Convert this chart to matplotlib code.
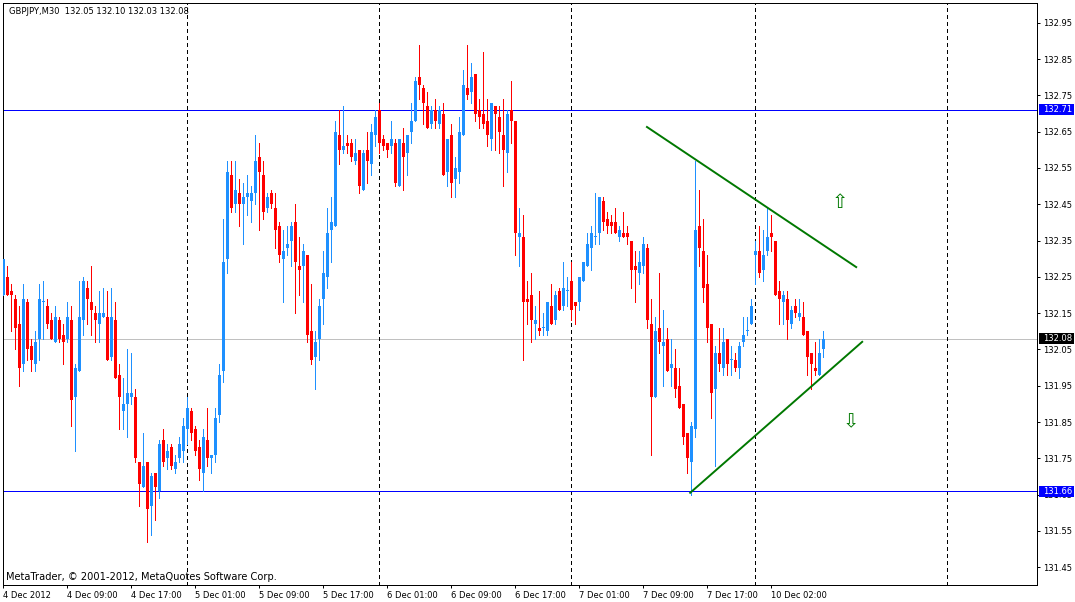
"""GBPJPY M30 candlestick chart in the MetaTrader 4 look (4-10 Dec 2012)."""

import matplotlib

matplotlib.use("Agg")

import matplotlib.pyplot as plt  # noqa: E402
import matplotlib.transforms as mtransforms  # noqa: E402
import numpy as np  # noqa: E402
from matplotlib.patches import Rectangle  # noqa: E402

# --- data --------------------------------------------------------------------
OPEN = [
    132.20, 132.25, 132.21, 132.19, 132.12, 132.01, 132.18, 132.06, 132.01, 132.08,
    132.18, 132.17, 132.13, 132.07, 132.13, 132.09, 132.08, 132.13, 131.92, 131.99,
    132.13, 132.22, 132.18, 132.15, 132.12, 132.14, 132.14, 132.03, 132.13, 131.98,
    131.88, 131.90, 131.92, 131.92, 131.74, 131.67, 131.74, 131.62, 131.71, 131.66,
    131.80, 131.75, 131.78, 131.72, 131.75, 131.77, 131.83, 131.88, 131.83, 131.78,
    131.71, 131.80, 131.75, 131.76, 131.87, 131.99, 132.30, 132.53, 132.45, 132.48,
    132.45, 132.47, 132.46, 132.48, 132.58, 132.53, 132.44, 132.48, 132.44, 132.39,
    132.30, 132.33, 132.35, 132.40, 132.28, 132.28, 132.31, 132.10, 132.03, 132.08,
    132.19, 132.25, 132.38, 132.39, 132.64, 132.60, 132.62, 132.62, 132.57, 132.60,
    132.49, 132.60, 132.56, 132.64, 132.71, 132.63, 132.62, 132.61, 132.62, 132.50,
    132.62, 132.59, 132.65, 132.68, 132.80, 132.77, 132.72, 132.67, 132.71, 132.67,
    132.70, 132.54, 132.64, 132.52, 132.54, 132.64, 132.77, 132.76, 132.81, 132.71,
    132.70, 132.68, 132.63, 132.72, 132.69, 132.64, 132.59, 132.71, 132.68, 132.36,
    132.36, 132.19, 132.20, 132.12, 132.11, 132.11, 132.10, 132.17, 132.13, 132.21,
    132.17, 132.21, 132.24, 132.18, 132.18, 132.24, 132.28, 132.33, 132.36, 132.37,
    132.46, 132.41, 132.40, 132.40, 132.36, 132.37, 132.37, 132.35, 132.28, 132.26,
    132.28, 132.33, 132.12, 131.92, 132.11, 132.06, 132.08, 132.00, 132.00, 131.95,
    131.90, 131.82, 131.74, 131.83, 132.39, 132.32, 132.23, 132.12, 131.94, 132.04,
    132.00, 132.08, 132.02, 132.02, 132.00, 132.07, 132.10, 132.12, 132.31, 132.32,
    132.27, 132.32, 132.37, 132.35, 132.21, 132.18, 132.19, 132.12, 132.17, 132.14,
    132.14, 132.10, 132.04, 132.00, 131.98, 132.05,
]
HIGH = [
    132.30, 132.28, 132.23, 132.20, 132.17, 132.23, 132.19, 132.08, 132.10, 132.23,
    132.24, 132.19, 132.15, 132.17, 132.14, 132.12, 132.18, 132.17, 132.01, 132.24,
    132.25, 132.24, 132.28, 132.17, 132.21, 132.22, 132.21, 132.22, 132.18, 132.01,
    131.97, 132.05, 132.04, 131.94, 131.74, 131.82, 131.74, 131.71, 131.71, 131.80,
    131.83, 131.79, 131.79, 131.76, 131.81, 131.86, 131.92, 131.89, 131.84, 131.80,
    131.83, 131.89, 131.76, 131.89, 132.01, 132.41, 132.57, 132.57, 132.57, 132.52,
    132.51, 132.53, 132.50, 132.64, 132.62, 132.57, 132.48, 132.49, 132.48, 132.40,
    132.38, 132.39, 132.40, 132.45, 132.36, 132.34, 132.31, 132.23, 132.10, 132.19,
    132.32, 132.44, 132.47, 132.68, 132.71, 132.72, 132.64, 132.63, 132.63, 132.60,
    132.60, 132.65, 132.67, 132.71, 132.73, 132.64, 132.62, 132.68, 132.63, 132.63,
    132.66, 132.64, 132.73, 132.80, 132.89, 132.78, 132.76, 132.72, 132.74, 132.72,
    132.73, 132.63, 132.67, 132.58, 132.69, 132.82, 132.89, 132.84, 132.81, 132.74,
    132.87, 132.74, 132.73, 132.72, 132.72, 132.74, 132.71, 132.79, 132.68, 132.44,
    132.42, 132.24, 132.26, 132.17, 132.21, 132.15, 132.18, 132.23, 132.21, 132.22,
    132.29, 132.25, 132.29, 132.18, 132.25, 132.29, 132.37, 132.39, 132.48, 132.47,
    132.47, 132.43, 132.42, 132.44, 132.39, 132.43, 132.39, 132.35, 132.32, 132.32,
    132.36, 132.34, 132.19, 132.14, 132.26, 132.16, 132.11, 132.08, 132.05, 132.00,
    131.90, 131.82, 131.85, 132.57, 132.49, 132.41, 132.31, 132.12, 132.06, 132.11,
    132.11, 132.08, 132.06, 132.04, 132.07, 132.14, 132.14, 132.19, 132.35, 132.39,
    132.38, 132.44, 132.42, 132.35, 132.24, 132.21, 132.21, 132.17, 132.19, 132.19,
    132.18, 132.10, 132.04, 132.07, 132.08, 132.10,
]
LOW = [
    132.20, 132.20, 132.10, 132.05, 131.95, 131.99, 132.02, 131.99, 131.99, 132.02,
    132.08, 132.11, 132.08, 132.07, 132.07, 132.01, 132.07, 131.84, 131.77, 131.99,
    132.09, 132.12, 132.09, 132.07, 132.07, 132.14, 132.02, 132.02, 131.97, 131.83,
    131.83, 131.81, 131.90, 131.74, 131.62, 131.67, 131.52, 131.54, 131.58, 131.64,
    131.73, 131.72, 131.72, 131.71, 131.74, 131.74, 131.79, 131.80, 131.76, 131.69,
    131.66, 131.73, 131.71, 131.74, 131.85, 131.96, 132.26, 132.43, 132.43, 132.39,
    132.34, 132.42, 132.40, 132.45, 132.38, 132.41, 132.43, 132.44, 132.33, 132.29,
    132.18, 132.31, 132.28, 132.15, 132.20, 132.18, 132.07, 132.01, 131.94, 132.02,
    132.12, 132.22, 132.29, 132.39, 132.56, 132.59, 132.59, 132.57, 132.56, 132.48,
    132.49, 132.51, 132.53, 132.61, 132.59, 132.60, 132.58, 132.59, 132.50, 132.50,
    132.49, 132.53, 132.62, 132.68, 132.74, 132.67, 132.66, 132.66, 132.66, 132.66,
    132.53, 132.50, 132.47, 132.47, 132.51, 132.64, 132.74, 132.73, 132.68, 132.66,
    132.66, 132.61, 132.60, 132.60, 132.59, 132.50, 132.54, 132.62, 132.31, 132.28,
    132.02, 132.12, 132.07, 132.08, 132.09, 132.09, 132.09, 132.12, 132.12, 132.16,
    132.16, 132.17, 132.13, 132.12, 132.16, 132.24, 132.28, 132.27, 132.34, 132.34,
    132.38, 132.37, 132.37, 132.37, 132.35, 132.36, 132.34, 132.22, 132.18, 132.23,
    132.26, 132.11, 131.76, 131.92, 132.04, 131.95, 131.99, 131.95, 131.92, 131.89,
    131.79, 131.71, 131.65, 131.81, 132.28, 132.18, 132.07, 131.86, 131.73, 131.99,
    131.98, 131.98, 131.98, 131.99, 131.97, 132.06, 132.09, 132.12, 132.23, 132.25,
    132.24, 132.31, 132.32, 132.20, 132.12, 132.12, 132.08, 132.11, 132.14, 132.13,
    132.09, 131.98, 131.94, 131.98, 131.98, 132.03,
]
CLOSE = [
    132.30, 132.20, 132.20, 132.11, 132.00, 132.19, 132.05, 132.02, 132.07, 132.19,
    132.18, 132.12, 132.08, 132.14, 132.08, 132.07, 132.14, 131.91, 132.00, 132.14,
    132.24, 132.19, 132.16, 132.13, 132.15, 132.15, 132.02, 132.14, 131.97, 131.92,
    131.90, 131.93, 131.93, 131.75, 131.68, 131.73, 131.61, 131.70, 131.67, 131.79,
    131.74, 131.77, 131.73, 131.74, 131.79, 131.84, 131.89, 131.82, 131.77, 131.72,
    131.81, 131.75, 131.76, 131.86, 131.98, 132.29, 132.54, 132.44, 132.49, 132.45,
    132.47, 132.48, 132.48, 132.57, 132.54, 132.43, 132.47, 132.45, 132.38, 132.31,
    132.32, 132.34, 132.39, 132.29, 132.27, 132.32, 132.09, 132.02, 132.07, 132.17,
    132.26, 132.37, 132.40, 132.65, 132.60, 132.61, 132.61, 132.58, 132.59, 132.50,
    132.59, 132.57, 132.65, 132.69, 132.62, 132.61, 132.60, 132.63, 132.51, 132.63,
    132.58, 132.64, 132.68, 132.79, 132.78, 132.73, 132.66, 132.71, 132.68, 132.71,
    132.53, 132.63, 132.51, 132.55, 132.65, 132.78, 132.75, 132.80, 132.70, 132.69,
    132.67, 132.64, 132.73, 132.70, 132.65, 132.60, 132.70, 132.68, 132.37, 132.37,
    132.18, 132.18, 132.13, 132.13, 132.10, 132.11, 132.18, 132.12, 132.20, 132.16,
    132.22, 132.21, 132.16, 132.17, 132.25, 132.29, 132.34, 132.37, 132.36, 132.47,
    132.40, 132.39, 132.39, 132.37, 132.38, 132.36, 132.36, 132.27, 132.27, 132.29,
    132.34, 132.13, 131.92, 132.10, 132.07, 132.07, 131.99, 132.01, 131.94, 131.89,
    131.81, 131.75, 131.84, 132.38, 132.33, 132.22, 132.11, 131.93, 132.04, 132.01,
    132.07, 132.01, 132.02, 132.00, 132.06, 132.09, 132.10, 132.17, 132.32, 132.26,
    132.31, 132.36, 132.36, 132.20, 132.19, 132.20, 132.13, 132.16, 132.15, 132.15,
    132.09, 132.03, 132.01, 131.99, 132.04, 132.08,
]

# time axis: bar index of each label, and the label text
TIME_TICKS = [0, 16, 32, 48, 64, 80, 96, 112, 128, 144, 160, 176, 192]
TIME_LABELS = [
    "4 Dec 2012", "4 Dec 09:00", "4 Dec 17:00", "5 Dec 01:00", "5 Dec 09:00",
    "5 Dec 17:00", "6 Dec 01:00", "6 Dec 09:00", "6 Dec 17:00", "7 Dec 01:00",
    "7 Dec 09:00", "7 Dec 17:00", "10 Dec 02:00",
]
DAY_SEPARATORS = [46, 94, 142, 188, 236]  # bar index of each midnight

PRICE_TICKS = [131.45, 131.55, 131.65, 131.75, 131.85, 131.95, 132.05, 132.15,
               132.25, 132.35, 132.45, 132.55, 132.65, 132.75, 132.85, 132.95]
RESISTANCE = 132.71
SUPPORT = 131.66
BID = 132.08

# triangle drawn on the chart: (bar index, price) anchors
UPPER_TREND = ([160.9, 213.2], [132.663, 132.277])
LOWER_TREND = ([171.7, 214.7], [131.655, 132.071])
ARROW_UP = (209.2, 132.454)
ARROW_DOWN = (211.9, 131.85)

SYMBOL_INFO = "GBPJPY,M30  132.05 132.10 132.03 132.08"
COPYRIGHT = "MetaTrader, © 2001-2012, MetaQuotes Software Corp."

# --- style -------------------------------------------------------------------
W, H, DPI = 1075, 602, 100
PX = 72.0 / DPI  # one pixel in points
BULL = "#1e90ff"
BEAR = "#ff0000"
TREND = "#007800"
FONT = 6.0
BOX_L, BOX_R, BOX_T, BOX_B = 2.5, 1037.0, 2.5, 585.0  # plot box, pixels

plt.rcParams["font.family"] = ["DejaVu Sans"]

fig = plt.figure(figsize=(W / DPI, H / DPI), dpi=DPI)
fig.patch.set_facecolor("white")
ax = fig.add_axes([BOX_L / W, (H - BOX_B) / H, (BOX_R - BOX_L) / W, (BOX_B - BOX_T) / H])
ax.set_xlim(-0.2, 258.4)
ax.set_ylim(131.401, 133.006)
px_per_price = (BOX_B - BOX_T) / (133.006 - 131.401)

o = np.array(OPEN)
h = np.array(HIGH)
lo = np.array(LOW)
c = np.array(CLOSE)
x = np.arange(o.size)
colors = np.where(c >= o, BULL, BEAR)

ax.vlines(x, lo, h, colors=colors, linewidth=PX, antialiased=False, zorder=3)
body = np.maximum(np.abs(c - o), 1.0 / px_per_price)
ax.bar(x, body, bottom=np.minimum(o, c), width=0.75, color=colors,
       linewidth=0, antialiased=False, zorder=4)

for sep in DAY_SEPARATORS:
    ax.axvline(sep, color="black", linewidth=PX, linestyle=(0, (4, 3)),
               antialiased=False, zorder=2)

ax.axhline(RESISTANCE, color="#0000ff", linewidth=PX, antialiased=False, zorder=2)
ax.axhline(SUPPORT, color="#0000ff", linewidth=PX, antialiased=False, zorder=2)
ax.axhline(BID, color="#c0c0c0", linewidth=PX, antialiased=False, zorder=1)

ax.plot(*UPPER_TREND, color=TREND, linewidth=1.4, zorder=5)
ax.plot(*LOWER_TREND, color=TREND, linewidth=1.4, zorder=5)
ax.text(*ARROW_UP, "\u21e7", color=TREND, fontsize=14, ha="center", va="center")
ax.text(*ARROW_DOWN, "\u21e9", color=TREND, fontsize=14, ha="center", va="center")

# axes frame and ticks, MT4 style
for side in ax.spines.values():
    side.set_color("black")
    side.set_linewidth(PX)
ax.yaxis.tick_right()
ax.set_yticks(PRICE_TICKS)
ax.set_yticklabels([f"{p:.2f}" for p in PRICE_TICKS])
ax.set_xticks(TIME_TICKS)
ax.set_xticklabels(TIME_LABELS)
ax.tick_params(axis="both", direction="out", length=2.2, width=PX,
               labelsize=FONT, pad=2.2, colors="black")
for lab in ax.get_xticklabels():
    lab.set_horizontalalignment("left")

# price tags on the right scale (box 1039..1074 px wide, 11 px tall)
tag_tf = mtransforms.blended_transform_factory(fig.transFigure, ax.transData)
half = 5.5 / px_per_price
for price, face in [(RESISTANCE, "#0000ff"), (SUPPORT, "#0000ff"), (BID, "black")]:
    ax.add_patch(Rectangle((1039 / W, price - half), 35 / W, 2 * half,
                           transform=tag_tf, facecolor=face, edgecolor="none",
                           clip_on=False, zorder=10))
    ax.text(1043 / W, price, f"{price:.2f}", transform=tag_tf, fontsize=FONT,
            color="white", ha="left", va="center", clip_on=False, zorder=11)

ax.text(6.5 / (BOX_R - BOX_L), 1 - 8.5 / (BOX_B - BOX_T), SYMBOL_INFO,
        transform=ax.transAxes, fontsize=FONT, ha="left", va="center")
ax.text(3 / (BOX_R - BOX_L), 8.5 / (BOX_B - BOX_T), COPYRIGHT,
        transform=ax.transAxes, fontsize=7.1, ha="left", va="center")

fig.savefig("out.png", dpi=DPI, facecolor="white")
